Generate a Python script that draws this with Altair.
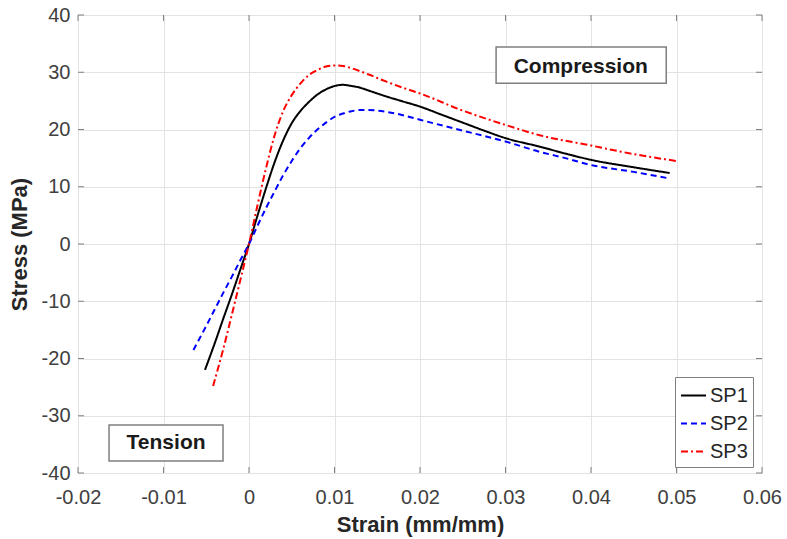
import altair as alt
import pandas as pd

# ---- data ----
sp1_x = [-0.00515, -0.004, -0.003, -0.002, -0.001, 0, 0.001, 0.002, 0.003, 0.004, 0.005, 0.006, 0.007,
         0.008, 0.009, 0.010, 0.011, 0.012, 0.013, 0.014, 0.016, 0.018, 0.020, 0.0225, 0.025, 0.0275,
         0.030, 0.034, 0.037, 0.040, 0.045, 0.0492]
sp1_y = [-22.0, -17.3, -13.0, -8.8, -4.4, 0, 5.0, 9.8, 14.3, 18.1, 21.1, 23.2, 24.8,
         26.1, 27.0, 27.6, 27.8, 27.6, 27.3, 26.8, 25.8, 24.9, 24.0, 22.6, 21.2, 19.8,
         18.5, 17.0, 15.8, 14.7, 13.4, 12.4]

sp2_x = [-0.0065, -0.005, -0.004, -0.003, -0.002, -0.001, 0, 0.001, 0.002, 0.003, 0.004, 0.005,
         0.006, 0.007, 0.008, 0.009, 0.010, 0.011, 0.012, 0.013, 0.014, 0.015, 0.016, 0.018, 0.020,
         0.025, 0.030, 0.034, 0.037, 0.040, 0.045, 0.049]
sp2_y = [-18.5, -14.3, -11.4, -8.5, -5.7, -2.8, 0, 3.2, 6.3, 9.2, 12.0, 14.5,
         16.7, 18.5, 20.0, 21.2, 22.2, 22.8, 23.2, 23.4, 23.4, 23.3, 23.1, 22.5, 21.7,
         19.8, 17.9, 16.1, 15.0, 13.8, 12.6, 11.5]

sp3_x = [-0.0042, -0.003, -0.002, -0.001, 0, 0.001, 0.002, 0.003, 0.004, 0.005, 0.006, 0.007,
         0.008, 0.009, 0.010, 0.011, 0.012, 0.014, 0.016, 0.018, 0.020, 0.025, 0.030, 0.034,
         0.040, 0.045, 0.050]
sp3_y = [-24.8, -18.3, -12.3, -6.2, 0, 6.8, 13.3, 19.0, 23.2, 26.0, 28.0, 29.5,
         30.4, 31.0, 31.2, 31.1, 30.7, 29.6, 28.4, 27.3, 26.3, 23.3, 20.8, 19.0,
         17.2, 15.7, 14.5]

series_names = ["SP1", "SP2", "SP3"]
series_colors = ["#000000", "#0000ff", "#ff0000"]
series_dashes = [[1, 0], [6, 4], [7, 3, 2, 3]]

x_ticks = [-0.02, -0.01, 0.0, 0.01, 0.02, 0.03, 0.04, 0.05, 0.06]
y_ticks = [-40, -30, -20, -10, 0, 10, 20, 30, 40]

ann_text = ["Compression", "Tension"]
ann_x = [0.0388, -0.0097]
ann_y = [30.9, -34.8]
ann_x1 = [0.0289, -0.01637]
ann_x2 = [0.0488, -0.00304]
ann_y1 = [34.4, -31.6]
ann_y2 = [28.1, -37.9]

# ---- tables ----
rows = []
for name, xs, ys in zip(series_names, [sp1_x, sp2_x, sp3_x], [sp1_y, sp2_y, sp3_y]):
    for i, (a, b) in enumerate(zip(xs, ys)):
        rows.append({"series": name, "strain": a, "stress": b, "order": i})
df = pd.DataFrame(rows)
ann = pd.DataFrame({"text": ann_text, "x": ann_x, "y": ann_y,
                    "x1": ann_x1, "x2": ann_x2, "y1": ann_y1, "y2": ann_y2})
xt = pd.DataFrame({"v": x_ticks})
yt = pd.DataFrame({"v": y_ticks})

W, H = 684, 458
FONT = "Liberation Sans"

xscale = alt.Scale(domain=[-0.02, 0.06], nice=False, zero=False)
yscale = alt.Scale(domain=[-40, 40], nice=False, zero=False)

xaxis = alt.Axis(values=x_ticks, title="Strain (mm/mm)", grid=True, ticks=False, domain=False,
                 labelExpr="datum.value == 0 ? '0' : toString(round(datum.value*100)/100)",
                 labelFontSize=20, labelFont=FONT, labelColor="#404040", labelPadding=14,
                 labelFlush=False, labelOverlap=False,
                 titleFontSize=22, titleFont=FONT, titleFontWeight="bold", titleColor="#262626",
                 titlePadding=7, gridColor="#e3e3e3", gridWidth=1)
yaxis = alt.Axis(values=y_ticks, title="Stress (MPa)", grid=True, ticks=False, domain=False,
                 labelExpr="toString(datum.value)",
                 labelFontSize=20, labelFont=FONT, labelColor="#404040", labelPadding=8,
                 labelFlush=False, labelOverlap=False,
                 titleFontSize=22, titleFont=FONT, titleFontWeight="bold", titleColor="#262626",
                 titlePadding=10, gridColor="#e3e3e3", gridWidth=1)

leg = dict(title=None, orient="none", legendX=597, legendY=362,
           fillColor="white", strokeColor="#7f7f7f", padding=5,
           symbolType="stroke", symbolSize=625, symbolStrokeWidth=2,
           labelFontSize=20, labelFont=FONT, labelColor="#262626",
           labelOffset=3, rowPadding=4)

lines = alt.Chart(df).mark_line(strokeWidth=2, interpolate="monotone").encode(
    x=alt.X("strain:Q", scale=xscale, axis=xaxis),
    y=alt.Y("stress:Q", scale=yscale, axis=yaxis),
    order="order:Q",
    color=alt.Color("series:N", scale=alt.Scale(domain=series_names, range=series_colors),
                    legend=alt.Legend(**leg)),
    strokeDash=alt.StrokeDash("series:N", scale=alt.Scale(domain=series_names, range=series_dashes),
                              legend=alt.Legend(**leg)),
)

tick_color = "#7f7f7f"
xb = alt.Chart(xt).mark_rule(color=tick_color, strokeWidth=1).encode(
    x=alt.X("v:Q", scale=xscale), y=alt.value(H), y2=alt.value(H - 6))
xtp = alt.Chart(xt).mark_rule(color=tick_color, strokeWidth=1).encode(
    x=alt.X("v:Q", scale=xscale), y=alt.value(0), y2=alt.value(6))
yl = alt.Chart(yt).mark_rule(color=tick_color, strokeWidth=1).encode(
    y=alt.Y("v:Q", scale=yscale), x=alt.value(0), x2=alt.value(6))
yr = alt.Chart(yt).mark_rule(color=tick_color, strokeWidth=1).encode(
    y=alt.Y("v:Q", scale=yscale), x=alt.value(W), x2=alt.value(W - 6))

boxes = alt.Chart(ann).mark_rect(fill="white", stroke="#7f7f7f", strokeWidth=1.5).encode(
    x=alt.X("x1:Q", scale=xscale), x2="x2:Q",
    y=alt.Y("y1:Q", scale=yscale), y2="y2:Q")
labels = alt.Chart(ann).mark_text(font=FONT, fontSize=21, fontWeight="bold", color="#1a1a1a",
                                  align="center", baseline="middle").encode(
    x=alt.X("x:Q", scale=xscale), y=alt.Y("y:Q", scale=yscale), text="text:N")

chart = alt.layer(xb, xtp, yl, yr, lines, boxes, labels).properties(
    width=W, height=H,
    autosize=alt.AutoSizeParams(type="none"),
    padding={"left": 78, "top": 15, "right": 25, "bottom": 66},
).configure_view(stroke="#7f7f7f", strokeWidth=1.2).configure(background="white")

chart.save("out.html", embed_options={"renderer": "svg", "actions": False})
